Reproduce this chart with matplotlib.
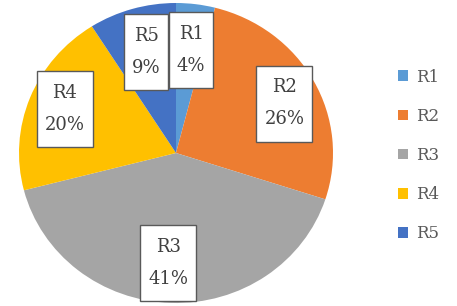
import matplotlib.pyplot as plt
from matplotlib.patches import Patch, Rectangle

labels = ['R1', 'R2', 'R3', 'R4', 'R5']
shares = [4, 26, 41, 20, 9]
colors = ['#5B9BD5', '#ED7D31', '#A5A5A5', '#FFC000', '#4472C4']

# label box centres (relative to pie centre, radius units)
label_pos = [(0.096, 0.687), (0.69, 0.33), (-0.05, -0.73), (-0.71, 0.29), (-0.19, 0.673)]

fig = plt.figure(figsize=(4.57, 3.06), dpi=100)
ax = fig.add_axes([19 / 457, 3 / 306, 314 / 457, 300 / 306])

wedges, _ = ax.pie(shares, colors=colors, startangle=90, counterclock=False,
                   radius=1.0, wedgeprops=dict(linewidth=0))
ax.set_aspect('auto')
ax.set_xlim(-1, 1)
ax.set_ylim(-1, 1)

texts = []
for lab, val, (x, y) in zip(labels, shares, label_pos):
    t = ax.text(x, y, f'{lab}\n{val}%', ha='center', va='center', zorder=5,
                family='DejaVu Serif', fontsize=13, color='#404040', linespacing=2.0)
    texts.append(t)

# white callout boxes, padded more vertically than horizontally
fig.canvas.draw()
r = fig.canvas.get_renderer()
padx, pady = 8, 13
for t in texts:
    bb = t.get_window_extent(r)
    x0, y0 = bb.x0 - padx, bb.y0 - pady
    w, h = bb.width + 2 * padx, bb.height + 2 * pady
    ax.add_patch(Rectangle((x0 / 457, y0 / 306), w / 457, h / 306,
                           transform=fig.transFigure, fc='white',
                           ec='#595959', lw=1, zorder=4, clip_on=False))

handles = [Patch(facecolor=c, edgecolor='none') for c in colors]
leg = fig.legend(handles, labels, loc='center left', bbox_to_anchor=(383 / 457, 0.492),
                 frameon=False, prop={'family': 'DejaVu Serif', 'size': 12},
                 handlelength=0.6, handleheight=0.6, handletextpad=0.5,
                 labelspacing=1.33, labelcolor='#595959')

fig.savefig('out.png', dpi=100)
